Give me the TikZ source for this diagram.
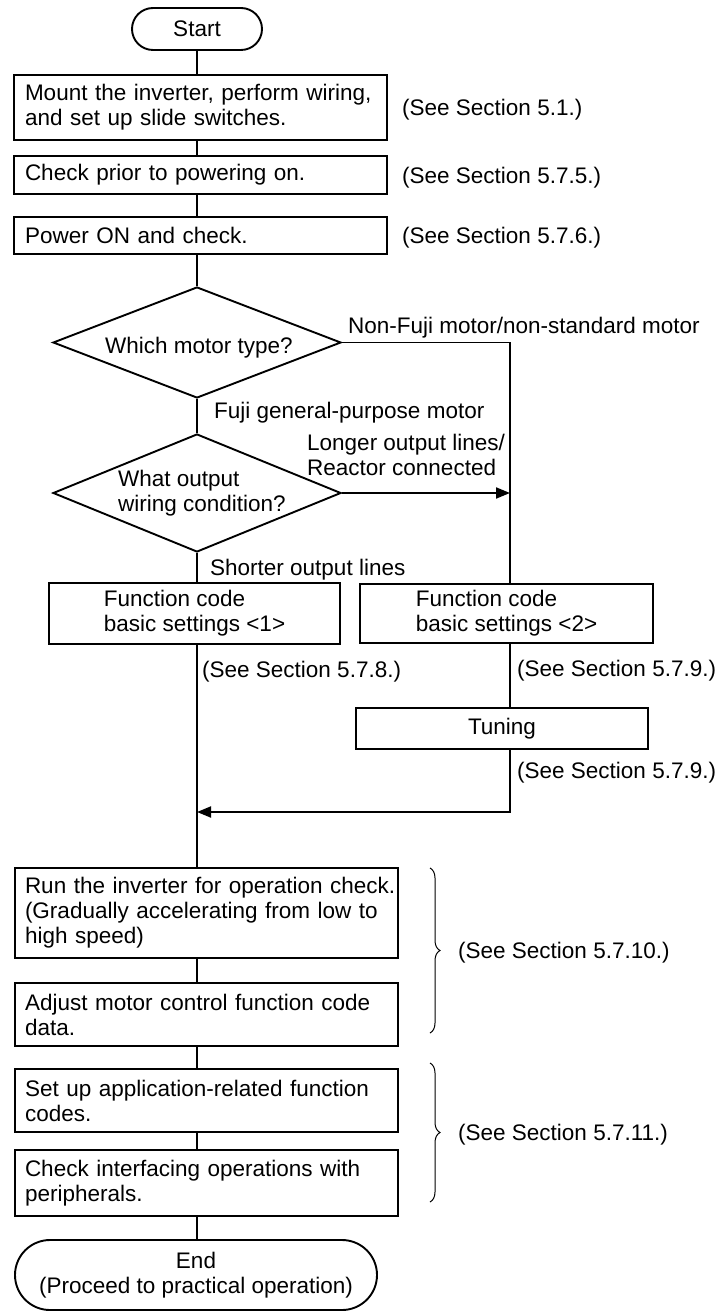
\documentclass[tikz,border=0pt]{standalone}
\usepackage{fontspec}
\setmainfont{Liberation Sans}
\usetikzlibrary{shapes.geometric,shapes.misc,arrows.meta,decorations.pathreplacing}
\begin{document}
\begin{tikzpicture}[x=1pt,y=-1pt,
  every node/.style={font=\fontsize{22.5}{25}\selectfont, text=black},
  ln/.style={line width=1.9pt},
  box/.style={draw, line width=1.9pt, rectangle, inner xsep=11pt, inner ysep=0pt, align=left},
  lbox/.style={box, inner xsep=10pt, text width=363pt, minimum height=#1},
  term/.style={draw, line width=1.9pt, rounded rectangle, inner sep=0pt, align=center},
  dec/.style={draw, line width=1.9pt, diamond, inner sep=0pt, minimum width=288pt},
  lbl/.style={anchor=base west, inner sep=0pt},
  mlbl/.style={anchor=west, inner sep=0pt, align=left},
  arr/.style={ln, -{Triangle[length=14pt,width=11pt]}},
  brc/.style={decorate, decoration={brace, amplitude=10pt}, line width=1pt},
]
\fill[white] (0,0) rectangle (721,1313);
\useasboundingbox (0,0) rectangle (721,1313);

\coordinate (ax) at (197,0);
\coordinate (jr) at (510,342.5);
\coordinate (back) at (197,812);

% main column
\node[term, minimum width=130pt, minimum height=42pt] (start) at (197,29) {Start};
\node[box, text width=351pt, minimum height=65pt] (b1) at (200.5,107.5) {Mount the inverter, perform wiring,\\and set up slide switches.};
\node[box, text width=351pt, minimum height=38pt] (b2) at (200.5,175) {Check prior to powering on.};
\node[box, text width=351pt, minimum height=37pt] (b3) at (200.5,235.5) {Power ON and check.};

\node[dec, minimum height=111pt] (d1) at (197,342.5) {};
\node[anchor=base, inner sep=0pt] (d1t) at (199,353) {Which motor type?};
\node[dec, minimum height=118pt] (d2) at (197,493) {};
\node[mlbl] (d2t) at (118,493.5) {What output\\wiring condition?};

\node[box, minimum width=291pt, minimum height=61pt] (fc1) at (194.5,613.5) {Function code\\basic settings <1>};
\node[box, minimum width=293pt, minimum height=59pt] (fc2) at (506.5,613.5) {Function code\\basic settings <2>};
\node[box, minimum width=292pt, minimum height=41pt, align=center] (tu) at (502,728.5) {Tuning};

\node[lbox=90pt] (run) at (206.5,913) {\mbox{Run the inverter for operation check.}\\(Gradually accelerating from low to\\high speed)};
\node[lbox=63pt] (adj) at (206.5,1014.5) {Adjust motor control function code\\data.};
\node[lbox=63pt] (setup) at (206.5,1100.5) {Set up application-related function\\codes.};
\node[lbox=66pt] (chk) at (206.5,1183) {Check interfacing operations with\\peripherals.};
\node[term, minimum width=362pt, minimum height=70pt] (end) at (196,1275) {End\\(Proceed to practical operation)};

% connectors
\draw[ln] (start.south) -- (b1.north -| ax);
\draw[ln] (b1.south -| ax) -- (b2.north -| ax);
\draw[ln] (b2.south -| ax) -- (b3.north -| ax);
\draw[ln] (b3.south -| ax) -- (d1.north);
\draw[ln] (d1.south) -- (d2.north);
\draw[ln] (d2.south) -- (fc1.north -| ax);
\draw[ln] (fc1.south -| ax) -- (run.north -| ax);
\draw[ln] (run.south -| ax) -- (adj.north -| ax);
\draw[ln] (adj.south -| ax) -- (setup.north -| ax);
\draw[ln] (setup.south -| ax) -- (chk.north -| ax);
\draw[ln] (chk.south -| ax) -- (end.north -| ax);
\draw[ln] (d1.east) -- (jr) -- (fc2.north -| jr);
\draw[arr] (d2.east) -- (d2.east -| jr);
\draw[ln] (fc2.south -| jr) -- (tu.north -| jr);
\draw[arr] (tu.south -| jr) -- (jr |- back) -- (back);

% labels
\node[lbl] (s51) at (402,116) {(See Section 5.1.)};
\node[lbl] (s575) at (402,184) {(See Section 5.7.5.)};
\node[lbl] (s576) at (402,244) {(See Section 5.7.6.)};
\node[lbl] (nonfuji) at (348,333) {Non-Fuji motor/non-standard motor};
\node[lbl] (fujigp) at (214,418) {Fuji general-purpose motor};
\node[mlbl] (longer) at (307,455) {Longer output lines/\\Reactor connected};
\node[lbl] (shorter) at (210,575) {Shorter output lines};
\node[lbl] (s578) at (202,677) {(See Section 5.7.8.)};
\node[lbl] (s579a) at (517,676) {(See Section 5.7.9.)};
\node[lbl] (s579b) at (517,778) {(See Section 5.7.9.)};

% braces
\draw[brc] (430,868) -- (430,1033);
\draw[brc] (430,1063) -- (430,1202);
\node[lbl] (s5710) at (458,958) {(See Section 5.7.10.)};
\node[lbl] (s5711) at (458,1140) {(See Section 5.7.11.)};
\end{tikzpicture}
\end{document}
